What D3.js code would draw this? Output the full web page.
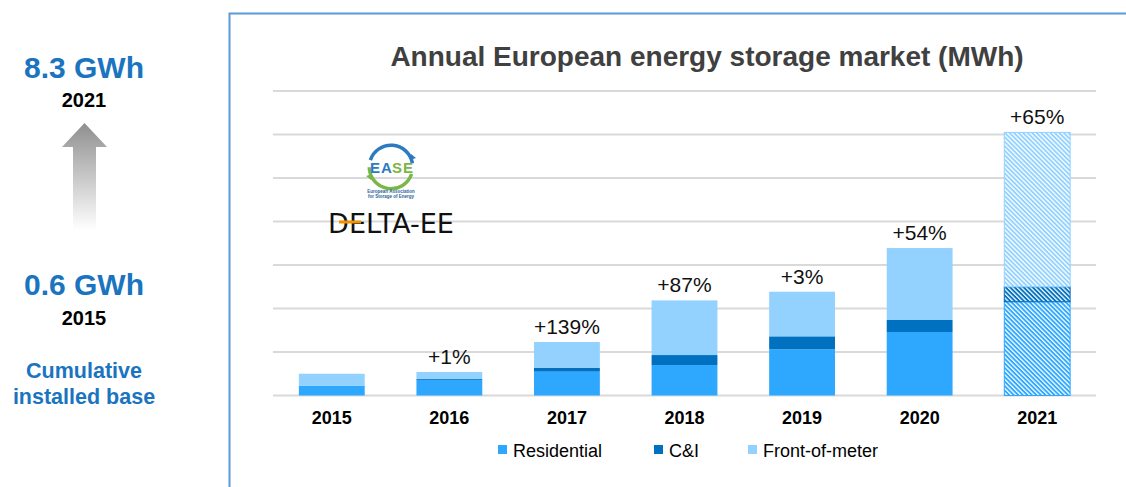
<!DOCTYPE html>
<html>
<head>
<meta charset="utf-8">
<script src="https://cdn.jsdelivr.net/npm/d3@7"></script>
<style>
  body { margin: 0; background: #fff; font-family: "Liberation Sans", Arial, sans-serif; }
  svg { display: block; }
</style>
</head>
<body>
<div id="chart"></div>
<script>
const years = ['2015', '2016', '2017', '2018', '2019', '2020', '2021'];
const residential = [110, 180, 274, 350, 531, 730, 1078];
const commercial = [0, 10, 46, 115, 149, 138, 172];
const frontOfMeter = [140, 80, 295, 628, 513, 827, 1774];
const growth = ['', '+1%', '+139%', '+87%', '+3%', '+54%', '+65%'];
const gridTicks = [0, 500, 1000, 1500, 2000, 2500, 3000, 3500];
const seriesNames = ['Residential', 'C&I', 'Front-of-meter'];
const colors = ['#2ea8ff', '#0070c0', '#93d2ff'];

const w = 1126, h = 487;

const svg = d3.select('#chart').append('svg')
    .attr('width', w)
    .attr('height', h);

const defs = svg.append('defs');

// hatch patterns for the 2021 forecast bar
colors.forEach((c, i) => {
    const p = defs.append('pattern')
        .attr('id', 'hatch' + i)
        .attr('patternUnits', 'userSpaceOnUse')
        .attr('width', 3.2)
        .attr('height', 3.2)
        .attr('patternTransform', 'rotate(45)');
    p.append('rect').attr('width', 3.2).attr('height', 3.2).attr('fill', '#fff');
    p.append('rect').attr('width', 3.2).attr('height', 1.9).attr('fill', c);
});

const grad = defs.append('linearGradient')
    .attr('id', 'arrowGrad')
    .attr('x1', 0).attr('y1', 0).attr('x2', 0).attr('y2', 1);
grad.append('stop').attr('offset', '0%').attr('stop-color', '#8f8f8f');
grad.append('stop').attr('offset', '100%').attr('stop-color', '#ffffff');

// ---- left panel
const blue = '#1a74c0';
const left = svg.append('g');
left.append('text').attr('x', 84).attr('y', 78).attr('text-anchor', 'middle')
    .attr('font-size', 30).attr('font-weight', 'bold').attr('fill', blue).text('8.3 GWh');
left.append('text').attr('x', 84).attr('y', 107).attr('text-anchor', 'middle')
    .attr('font-size', 20).attr('font-weight', 'bold').attr('fill', '#000').text('2021');
left.append('path')
    .attr('d', 'M62,147 L84.5,123 L107,147 L96,147 L96,230 L73,230 L73,147 Z')
    .attr('fill', 'url(#arrowGrad)');
left.append('text').attr('x', 84).attr('y', 295).attr('text-anchor', 'middle')
    .attr('font-size', 30).attr('font-weight', 'bold').attr('fill', blue).text('0.6 GWh');
left.append('text').attr('x', 84).attr('y', 325).attr('text-anchor', 'middle')
    .attr('font-size', 20).attr('font-weight', 'bold').attr('fill', '#000').text('2015');
left.append('text').attr('x', 84).attr('y', 378).attr('text-anchor', 'middle')
    .attr('font-size', 21.5).attr('font-weight', 'bold').attr('fill', blue).text('Cumulative');
left.append('text').attr('x', 84).attr('y', 404).attr('text-anchor', 'middle')
    .attr('font-size', 21.5).attr('font-weight', 'bold').attr('fill', blue).text('installed base');

// ---- chart frame
svg.append('path')
    .attr('d', 'M229.5,' + (h + 5) + ' L229.5,13.5 L' + (w + 5) + ',13.5')
    .attr('fill', 'none')
    .attr('stroke', '#5b9bd5')
    .attr('stroke-width', 2);

svg.append('text')
    .attr('x', 707).attr('y', 66)
    .attr('text-anchor', 'middle')
    .attr('font-size', 28).attr('font-weight', 'bold')
    .attr('fill', '#404040')
    .text('Annual European energy storage market (MWh)');

const xScale = d3.scaleBand()
    .domain(years)
    .range([273, 1096])
    .paddingInner(0.44)
    .paddingOuter(0.22);

const yScale = d3.scaleLinear()
    .domain([0, 3500])
    .range([395.5, 91]);

// gridlines
svg.append('g').selectAll('line')
    .data(gridTicks)
    .enter()
    .append('line')
    .attr('x1', 273).attr('x2', 1096)
    .attr('y1', d => yScale(d)).attr('y2', d => yScale(d))
    .attr('stroke', '#d9d9d9')
    .attr('stroke-width', 2);

// stacked bars
const table = years.map((y, i) => ({ year: y, s0: residential[i], s1: commercial[i], s2: frontOfMeter[i] }));
const stacked = d3.stack().keys(['s0', 's1', 's2'])(table);

stacked.forEach((layer, k) => {
    svg.append('g').selectAll('rect')
        .data(layer)
        .enter()
        .append('rect')
        .attr('x', d => xScale(d.data.year))
        .attr('y', d => yScale(d[1]))
        .attr('width', xScale.bandwidth())
        .attr('height', d => yScale(d[0]) - yScale(d[1]))
        .attr('fill', d => d.data.year === '2021' ? 'url(#hatch' + k + ')' : colors[k])
        .attr('stroke', d => d.data.year === '2021' ? colors[k] : 'none')
        .attr('stroke-width', 1);
});

// growth labels
svg.append('g').selectAll('text')
    .data(table)
    .enter()
    .append('text')
    .attr('x', d => xScale(d.year) + xScale.bandwidth() / 2)
    .attr('y', d => yScale(d.s0 + d.s1 + d.s2) - 8)
    .attr('text-anchor', 'middle')
    .attr('font-size', 21)
    .attr('fill', '#111')
    .text((d, i) => growth[i]);

// x axis
const xAxis = d3.axisBottom(xScale).tickSize(0).tickPadding(0);
const gx = svg.append('g')
    .attr('transform', 'translate(0,' + 395.5 + ')')
    .call(xAxis);
gx.select('.domain').remove();
gx.selectAll('text')
    .attr('y', 28.5)
    .attr('dy', 0)
    .attr('font-family', '"Liberation Sans", Arial, sans-serif')
    .attr('font-size', 18)
    .attr('font-weight', 'bold')
    .attr('fill', '#000');

// legend
const legendX = [498, 654, 748];
const legend = svg.append('g');
seriesNames.forEach((name, i) => {
    legend.append('rect')
        .attr('x', legendX[i]).attr('y', 445)
        .attr('width', 9).attr('height', 9)
        .attr('fill', colors[i]);
    legend.append('text')
        .attr('x', legendX[i] + 15).attr('y', 457)
        .attr('font-size', 18)
        .attr('fill', '#000')
        .text(name);
});

// logos
const logo = svg.append('g');
const arc = d3.arc().innerRadius(20).outerRadius(23.5);
logo.append('path').attr('transform', 'translate(391,167)')
    .attr('d', arc({ startAngle: -1.25, endAngle: 1.4 })).attr('fill', '#2a7bc1');
logo.append('path').attr('transform', 'translate(391,167)')
    .attr('d', arc({ startAngle: 1.9, endAngle: 4.7 })).attr('fill', '#7ab648');
logo.append('path').attr('d', 'M411,154 l5,4 l-6,2 z').attr('fill', '#2a7bc1');
logo.append('path').attr('d', 'M371,180 l-5,-4 l6,-2 z').attr('fill', '#7ab648');
const easeLetters = [['E', '#2a7bc1'], ['A', '#2a7bc1'], ['S', '#7ab648'], ['E', '#7ab648']];
easeLetters.forEach((l, i) => {
    logo.append('text').attr('x', 370 + i * 11).attr('y', 173)
        .attr('font-size', 15).attr('font-weight', 'bold').attr('fill', l[1]).text(l[0]);
});
logo.append('text').attr('x', 391).attr('y', 193).attr('text-anchor', 'middle')
    .attr('font-size', 4.5).attr('font-weight', 'bold').attr('fill', '#2a5f9e').text('European Association');
logo.append('text').attr('x', 391).attr('y', 198).attr('text-anchor', 'middle')
    .attr('font-size', 4.5).attr('font-weight', 'bold').attr('fill', '#2a5f9e').text('for Storage of Energy');
logo.append('text').attr('x', 328).attr('y', 233)
    .attr('font-size', 27).attr('font-family', '"DejaVu Sans", sans-serif')
    .attr('textLength', 126).attr('lengthAdjust', 'spacingAndGlyphs')
    .attr('fill', '#111').text('DELTA-EE');
logo.append('rect').attr('x', 339).attr('y', 220.5).attr('width', 22).attr('height', 3).attr('fill', '#f29100');
</script>
</body>
</html>
